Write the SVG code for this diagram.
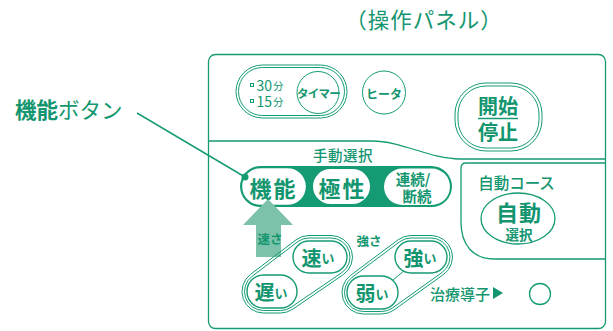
<svg xmlns="http://www.w3.org/2000/svg" width="613" height="331" viewBox="0 0 613 331">
<style>
.ln{fill:none;stroke:#149b74;stroke-width:1.3}
.thin{fill:none;stroke:#149b74;stroke-width:1}
.wp{fill:#fff;stroke:#149b74;stroke-width:1.4}
.t{font-family:"Noto Sans CJK JP","Noto Sans",sans-serif;fill:#13966f;text-anchor:middle;dominant-baseline:central}
.s{text-anchor:start}
.b{font-weight:700}
.m{font-weight:500}
</style>
<rect width="613" height="331" fill="#fff"/>
<text id="title" class="t" x="424" y="18" font-size="21.5" letter-spacing="1">（操作パネル）</text>
<g id="panel">
<rect class="ln" x="208.5" y="54.5" width="397" height="274" rx="7" stroke-width="1.5"/>
<path class="ln" d="M208,141 H372 C402,141 430,159 460,159 H605"/>
<path class="ln" d="M605,163 H466 Q461,163 461,168 V222 C461,246 474,259 494,259 H605"/>
</g>
<g id="timer">
<rect class="thin" x="236" y="65" width="111" height="53" rx="26.5"/>
<rect class="thin" x="238.5" y="67.5" width="106" height="48" rx="24"/>
<circle class="thin" cx="318" cy="92.5" r="21" stroke-width="1.2"/>
<rect class="thin" x="250.5" y="83.5" width="3" height="3" stroke-width="0.8"/>
<rect class="thin" x="250.5" y="99.5" width="3" height="3" stroke-width="0.8"/>
<text class="t s" x="256.5" y="85" font-size="14">30<tspan font-size="10.5" dx="1">分</tspan></text>
<text class="t s" x="256.5" y="101" font-size="14">15<tspan font-size="10.5" dx="1">分</tspan></text>
<text class="t b" x="318.5" y="93" font-size="11.5" letter-spacing="-0.8">タイマー</text>
</g>
<g id="heater">
<circle class="thin" cx="384" cy="92.5" r="21.5" stroke-width="1.2"/>
<text class="t b" x="384" y="93" font-size="12">ヒータ</text>
</g>
<g id="start-stop">
<rect class="thin" x="455" y="83" width="87" height="68" rx="31" stroke-width="1.2"/>
<rect class="thin" x="458" y="86" width="81" height="62" rx="28" stroke-width="1.2"/>
<text class="t b" x="498" y="105.5" font-size="20">開始</text>
<line class="ln" x1="478" y1="118.5" x2="518" y2="118.5" stroke-width="1.5"/>
<text class="t b" x="498" y="131" font-size="20">停止</text>
</g>
<g id="manual">
<text class="t m" x="343" y="154" font-size="14.5" letter-spacing="0.5">手動選択</text>
<rect x="240" y="166" width="212" height="41" rx="20.5" fill="#149b74"/>
</g>
<g id="kinou">
<rect class="wp" x="241.5" y="167.5" width="65" height="38" rx="19" stroke-width="1.6"/>
</g>
<g id="arrow">
<polygon points="268,199 293,225 281,225 281,257 256,257 256,225 243,225" fill="#7cc2ab"/>
<text class="t b" x="270" y="238" font-size="12.5">速さ</text>
</g>
<text class="t b" x="273.5" y="187" font-size="22" letter-spacing="2">機能</text>
<g id="kyokusei">
<rect x="313" y="169" width="57" height="35" rx="17.5" fill="#fff"/>
<text class="t b" x="342.5" y="187" font-size="22" letter-spacing="2">極性</text>
</g>
<g id="renzoku">
<rect x="384" y="168.5" width="66" height="36.5" rx="18.25" fill="#fff"/>
<text class="t b" x="413" y="178" font-size="14.5">連続/</text>
<text class="t b" x="417" y="195" font-size="14.5">断続</text>
</g>
<g id="auto">
<text class="t m" x="516.5" y="182" font-size="15.5">自動コース</text>
<ellipse class="ln" cx="518" cy="218.5" rx="37" ry="25.5" stroke-width="1.8"/>
<text class="t b" x="519" y="210.5" font-size="22" letter-spacing="1">自動</text>
<text class="t b" x="519" y="233.5" font-size="13.5">選択</text>
</g>
<g id="speed">
<path class="thin" d="M263.5,310.5 L280.5,310.5 A19,19 0 0 0 291.22,307.19 L341.72,272.69 A19,19 0 0 0 331,238 L309,238 A19,19 0 0 0 297.52,241.86 L252.02,276.36 A19,19 0 0 0 263.5,310.5 Z"/>
<path class="thin" d="M263.5,313 L280.5,313 A21.5,21.5 0 0 0 292.63,309.25 L343.13,274.75 A21.5,21.5 0 0 0 331,235.5 L309,235.5 A21.5,21.5 0 0 0 296.01,239.87 L250.51,274.37 A21.5,21.5 0 0 0 263.5,313 Z"/>
<rect class="wp" x="293" y="241" width="54" height="32" rx="16"/>
<rect class="wp" x="247" y="275" width="50" height="33" rx="16.5"/>
<text class="t b" x="318" y="257" font-size="20">速<tspan font-size="13">い</tspan></text>
<text class="t b" x="271" y="291.5" font-size="20">遅<tspan font-size="13">い</tspan></text>
</g>
<g id="strength">
<text class="t b" x="369" y="240" font-size="12.5">強さ</text>
<path class="thin" d="M363.5,311.5 L381.5,311.5 A19,19 0 0 0 392.57,307.94 L442.07,272.44 A19,19 0 0 0 431,238 L411,238 A19,19 0 0 0 399.62,241.78 L352.12,277.28 A19,19 0 0 0 363.5,311.5 Z"/>
<path class="thin" d="M363.5,314 L381.5,314 A21.5,21.5 0 0 0 394.03,309.97 L443.53,274.47 A21.5,21.5 0 0 0 431,235.5 L411,235.5 A21.5,21.5 0 0 0 398.13,239.78 L350.63,275.28 A21.5,21.5 0 0 0 363.5,314 Z"/>
<line class="thin" x1="393" y1="280" x2="405" y2="270"/>
<rect class="wp" x="395" y="241" width="52" height="32" rx="16"/>
<rect class="wp" x="347" y="276" width="51" height="33" rx="16.5"/>
<text class="t b" x="420" y="257" font-size="20">強<tspan font-size="13">い</tspan></text>
<text class="t b" x="372" y="292.5" font-size="20">弱<tspan font-size="13">い</tspan></text>
</g>
<g id="probe">
<text class="t m s" x="430" y="293" font-size="15">治療導子</text>
<polygon points="493,287 503,293 493,299" fill="#13966f"/>
<circle class="ln" cx="540" cy="294" r="10.5"/>
</g>
<g id="label">
<text class="t s" x="15" y="108" font-size="21.5"><tspan font-weight="700">機能</tspan><tspan font-weight="400">ボタン</tspan></text>
</g>
<g id="connectors">
<line x1="137" y1="113" x2="245" y2="177" stroke="#149b74" stroke-width="1.5"/>
<circle cx="245" cy="177" r="3.5" fill="#149b74"/>
</g>
</svg>
